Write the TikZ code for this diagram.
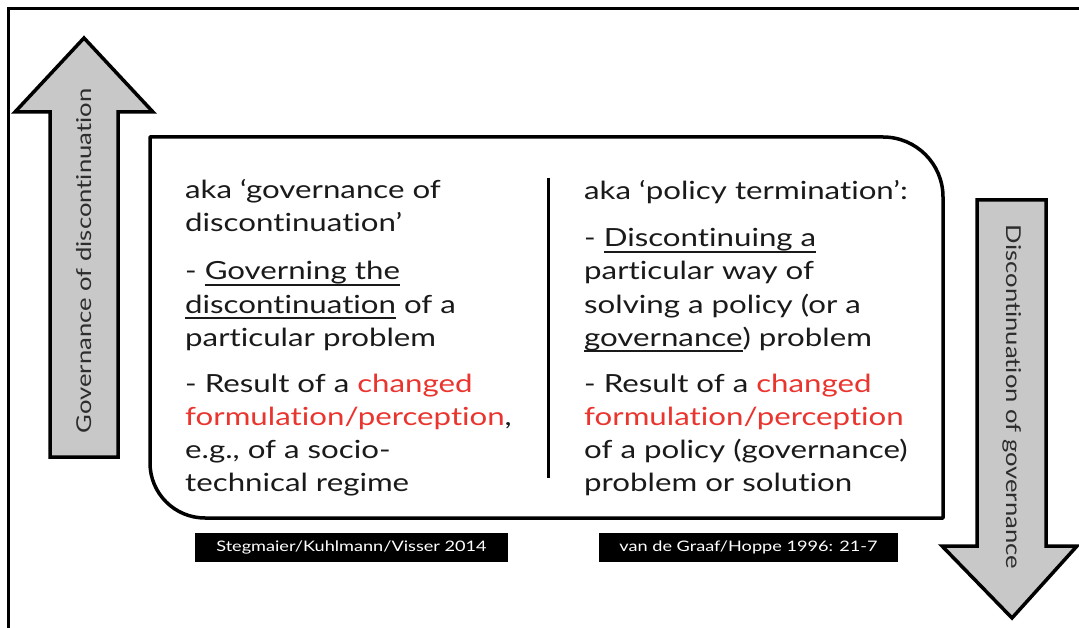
\documentclass[tikz,border=0pt]{standalone}
\usepackage{fontspec}
\setmainfont{Lato}[FakeStretch=1.25, Ligatures=NoCommon]
\setsansfont{Lato}[FakeStretch=1.25, Ligatures=NoCommon]
\definecolor{ink}{RGB}{26,26,26}
\definecolor{hilite}{RGB}{234,52,46}
\definecolor{arrowfill}{RGB}{200,200,200}
\definecolor{arrowtext}{RGB}{45,45,45}
\tikzset{
  body/.style={anchor=base west, inner sep=0pt, text=ink,
    font=\fontsize{25}{30}\selectfont},
  arrowlabel/.style={inner sep=0pt, text=arrowtext,
    font=\fontsize{20.5}{25}\selectfont},
  bigarrow/.style={draw=black, line width=3.5pt, fill=arrowfill, line join=miter},
  source/.style={fill=black, text=white, inner sep=0pt,
    minimum height=29pt, font=\fontsize{14.5}{18}\selectfont},
}
\newcommand\hl[1]{\textcolor{hilite}{#1}}
% underline drawn as a rule below the baseline
\newsavebox\ulinebox
\newcommand\ulined[1]{\sbox\ulinebox{#1}\rlap{\rule[-5.8pt]{\wd\ulinebox}{1.6pt}}\usebox\ulinebox}
\begin{document}
\begin{tikzpicture}[x=1pt, y=-1pt]
\useasboundingbox (0,0) rectangle (1079,628);

% frame lines (top and left)
\draw[line width=2.5pt] (8.5,640) -- (8.5,8.5) -- (1090,8.5);

% upward arrow
\draw[bigarrow] (50,457) -- (50,112) -- (15,112) -- (84,38) -- (153,112)
  -- (118,112) -- (118,457) -- cycle;
\node[arrowlabel, rotate=90] (govdisc) at (84,261) {Governance of discontinuation};

% downward arrow
\draw[bigarrow] (977,200) -- (1046,200) -- (1046,546) -- (1077,546) -- (1012,618)
  -- (942,546) -- (977,546) -- cycle;
\node[arrowlabel, rotate=-90] (discgov) at (1012,397) {Discontinuation of governance};

% main panel
\draw[line width=3.5pt, line join=round]
  (150,137) -- (883,137) arc[start angle=-90, end angle=0, radius=60]
  -- (943,518) -- (205,518) arc[start angle=90, end angle=180, radius=55]
  -- cycle;

% column divider
\coordinate (divtop) at (548,178);
\coordinate (divbot) at (548,478);
\draw[line width=3pt] (divtop) -- (divbot);

% left column
\node[body] (l1) at (185,199) {aka ‘governance of};
\node[body] (l2) at (185,232) {discontinuation’};
\node[body] (l3) at (185,280) {- \ulined{Governing the}};
\node[body] (l4) at (185,313) {\ulined{discontinuation} of a};
\node[body] (l5) at (185,346) {particular problem};
\node[body] (l6) at (185,392) {- Result of a \hl{changed}};
\node[body] (l7) at (185,425) {\hl{formulation/perception},};
\node[body] (l8) at (185,458) {e.g., of a socio-};
\node[body] (l9) at (185,491) {technical regime};

% right column
\node[body] (r1) at (584,200) {aka ‘policy termination’:};
\node[body] (r2) at (584,247) {- \ulined{Discontinuing a}};
\node[body] (r3) at (584,280) {particular way of};
\node[body] (r4) at (584,313) {solving a policy (or a};
\node[body] (r5) at (584,346) {\ulined{governance}) problem};
\node[body] (r6) at (584,392) {- Result of a \hl{changed}};
\node[body] (r7) at (584,425) {\hl{formulation/perception}};
\node[body] (r8) at (584,458) {of a policy (governance)};
\node[body] (r9) at (584,491) {problem or solution};

% sources
\node[source, minimum width=313pt] (src1) at (351.5,547.5) {Stegmaier/Kuhlmann/Visser 2014};
\node[source, minimum width=299pt] (src2) at (748.5,547.5) {van de Graaf/Hoppe 1996: 21-7};
\end{tikzpicture}
\end{document}
